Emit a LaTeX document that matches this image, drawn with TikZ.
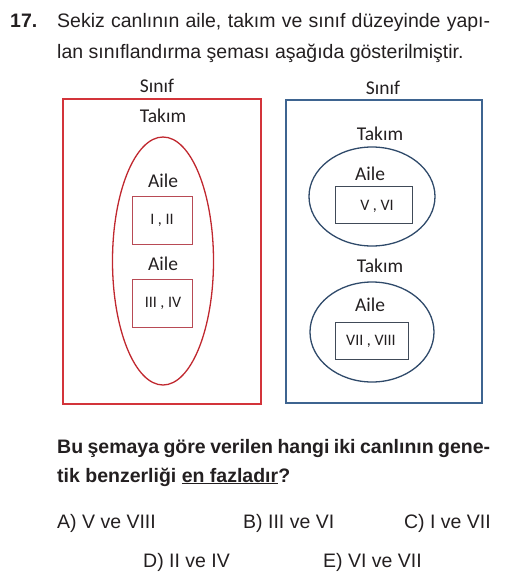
\documentclass[tikz,border=0pt]{standalone}
\usepackage{fontspec}
\setmainfont{Liberation Sans}
\newfontfamily\diagfont{Carlito}
\definecolor{redbox}{HTML}{D3343A}
\definecolor{redell}{HTML}{C0282F}
\definecolor{redin}{HTML}{B84A55}
\definecolor{bluebox}{HTML}{3E6490}
\definecolor{blueell}{HTML}{2F4A6A}
\definecolor{bluein}{HTML}{404A58}
\definecolor{txt}{HTML}{231F20}
\tikzset{
  qtext/.style={anchor=base west, inner sep=0pt, text=txt, font=\fontsize{19.5}{23}\selectfont},
  lbl/.style={inner sep=0pt, text=txt, font=\diagfont\fontsize{19.5}{23}\selectfont},
  num/.style={inner sep=0pt, text=txt, font=\diagfont\fontsize{16}{19}\selectfont},
}
\begin{document}
\begin{tikzpicture}[x=1pt,y=-1pt]
\useasboundingbox (0,0) rectangle (509,584);
% question header
\node[qtext, font=\bfseries\fontsize{19.5}{23}\selectfont] (qn) at (10,27) {17.};
\node[qtext] (q1) at (57,27) {\hbox to 433pt{Sekiz canlının aile, takım ve sınıf düzeyinde yapı-}};
\node[qtext] (q2) at (57,58) {lan sınıflandırma şeması aşağıda gösterilmiştir.};
% left diagram
\draw[redbox, line width=2.6pt] (63,99) rectangle (261,404);
\node[lbl] (ls) at (157,86) {Sınıf};
\node[lbl] (lt) at (163,116) {Takım};
\draw[redell, line width=1.3pt] (163,261) ellipse [x radius=50.5, y radius=124];
\node[lbl] (la1) at (163,181) {Aile};
\draw[redin, line width=1pt] (132,196) rectangle (192,244);
\node[num] (l12) at (162,220) {I , II};
\node[lbl] (la2) at (163,264) {Aile};
\draw[redin, line width=1pt] (132,279) rectangle (192,327);
\node[num] (l34) at (163,303) {III , IV};
% right diagram
\draw[bluebox, line width=2.6pt] (286,100) rectangle (482,403);
\node[lbl] (rs) at (383,88) {Sınıf};
\node[lbl] (rt1) at (380,134) {Takım};
\draw[blueell, line width=1.3pt] (372,196.5) ellipse [x radius=63, y radius=49.5];
\node[lbl] (ra1) at (370,174) {Aile};
\draw[bluein, line width=1pt] (335,186) rectangle (412,223);
\node[num] (r56) at (377,206) {V , VI};
\node[lbl] (rt2) at (380,266) {Takım};
\draw[blueell, line width=1.3pt] (372,332) ellipse [x radius=62, y radius=50];
\node[lbl] (ra2) at (370,305) {Aile};
\draw[bluein, line width=1pt] (335,322) rectangle (408,359);
\node[num] (r78) at (371,341) {VII , VIII};
% question
\node[qtext, font=\bfseries\fontsize{19.5}{23}\selectfont] (b1) at (57,453) {\hbox to 433pt{Bu şemaya göre verilen hangi iki canlının gene-}};
\node[qtext, font=\bfseries\fontsize{19.5}{23}\selectfont] (b2) at (57,482) {tik benzerliği \underline{en fazladır}?};
% options
\node[qtext] (oa) at (57,528) {A) V ve VIII};
\node[qtext] (ob) at (243,528) {B) III ve VI};
\node[qtext, anchor=base east] (oc) at (491,528) {C) I ve VII};
\node[qtext] (od) at (143,567) {D) II ve IV};
\node[qtext] (oe) at (323,567) {E) VI ve VII};
\end{tikzpicture}
\end{document}
